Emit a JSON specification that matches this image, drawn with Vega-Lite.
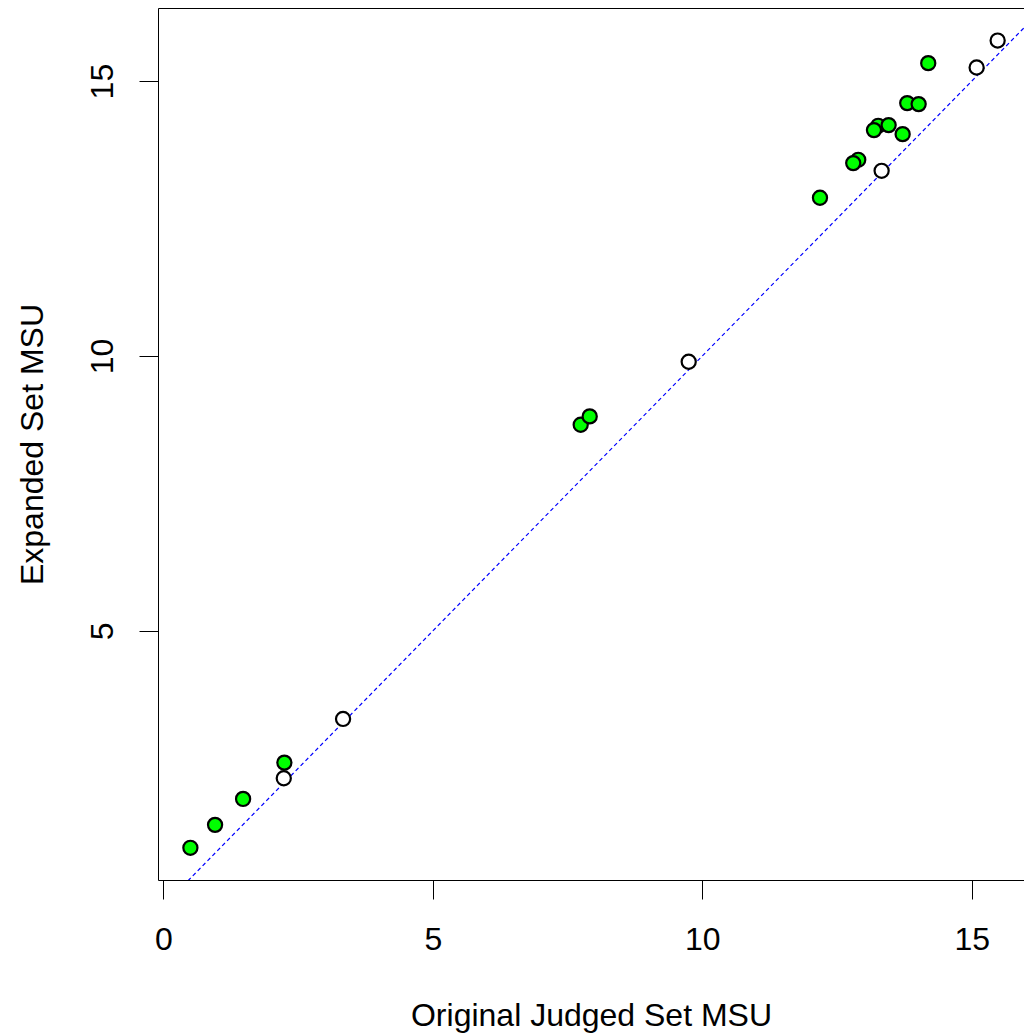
{
  "$schema": "https://vega.github.io/schema/vega-lite/v6.json",
  "width": 866,
  "height": 872,
  "autosize": "none",
  "padding": {"left": 158, "top": 8, "right": 0, "bottom": 156},
  "background": "white",
  "config": {
    "view": {"stroke": null},
    "font": "Liberation Sans",
    "axis": {"grid": false, "domainColor": "black", "tickColor": "black", "labelColor": "black", "titleColor": "black", "labelFont": "Liberation Sans", "titleFont": "Liberation Sans", "titleFontWeight": "normal"}
  },
  "datasets": {
    "pts": [
      {"orig": 0.501, "exp": 1.055, "group": "green"},
      {"orig": 0.959, "exp": 1.473, "group": "green"},
      {"orig": 1.479, "exp": 1.945, "group": "green"},
      {"orig": 2.245, "exp": 2.605, "group": "green"},
      {"orig": 7.744, "exp": 8.751, "group": "green"},
      {"orig": 7.911, "exp": 8.902, "group": "green"},
      {"orig": 12.184, "exp": 12.878, "group": "green"},
      {"orig": 12.894, "exp": 13.569, "group": "green"},
      {"orig": 12.801, "exp": 13.509, "group": "green"},
      {"orig": 13.265, "exp": 14.187, "group": "green"},
      {"orig": 13.186, "exp": 14.109, "group": "green"},
      {"orig": 13.458, "exp": 14.2, "group": "green"},
      {"orig": 13.718, "exp": 14.036, "group": "green"},
      {"orig": 13.803, "exp": 14.6, "group": "green"},
      {"orig": 14.015, "exp": 14.582, "group": "green"},
      {"orig": 14.193, "exp": 15.327, "group": "green"},
      {"orig": 2.234, "exp": 2.32, "group": "open"},
      {"orig": 3.334, "exp": 3.4, "group": "open"},
      {"orig": 9.748, "exp": 9.896, "group": "open"},
      {"orig": 13.328, "exp": 13.369, "group": "open"},
      {"orig": 15.091, "exp": 15.247, "group": "open"},
      {"orig": 15.481, "exp": 15.738, "group": "open"}
    ],
    "ref": [
      {"orig": 0, "exp": 0},
      {"orig": 17, "exp": 17}
    ]
  },
  "resolve": {"axis": {"x": "independent", "y": "independent"}},
  "layer": [
    {
      "data": {"name": "ref"},
      "mark": {"type": "line", "clip": true, "stroke": "#0000FF", "strokeWidth": 1.2, "strokeDash": [4, 3]},
      "encoding": {
        "x": {"field": "orig", "type": "quantitative", "scale": {"domain": [-0.1, 15.97], "nice": false, "zero": false},
              "axis": {"orient": "top", "labels": false, "ticks": false, "title": null, "domain": true}},
        "y": {"field": "exp", "type": "quantitative", "scale": {"domain": [0.47, 16.33], "nice": false, "zero": false},
              "axis": {"orient": "right", "labels": false, "ticks": false, "title": null, "domain": false}}
      }
    },
    {
      "data": {"name": "pts"},
      "mark": {"type": "point", "shape": "circle", "filled": true, "size": 200, "stroke": "black", "strokeWidth": 2.2, "opacity": 1},
      "encoding": {
        "x": {"field": "orig", "type": "quantitative", "scale": {"domain": [-0.1, 15.97], "nice": false, "zero": false},
              "axis": {"orient": "bottom", "values": [0, 5, 10, 15], "tickSize": 19, "labelFontSize": 32, "labelPadding": 25, "labelBaseline": "top",
                       "title": "Original Judged Set MSU", "titleFontSize": 32, "titleBaseline": "alphabetic", "titleY": 145}},
        "y": {"field": "exp", "type": "quantitative", "scale": {"domain": [0.47, 16.33], "nice": false, "zero": false},
              "axis": {"orient": "left", "values": [5, 10, 15], "tickSize": 19, "labelFontSize": 32, "labelAngle": -90, "labelAlign": "center", "labelBaseline": "alphabetic", "labelPadding": 27,
                       "title": "Expanded Set MSU", "titleFontSize": 32, "titleBaseline": "alphabetic", "titleX": -116}},
        "fill": {"field": "group", "type": "nominal", "scale": {"domain": ["green", "open"], "range": ["#00FF00", "#FFFFFF"]}, "legend": null}
      }
    }
  ]
}
